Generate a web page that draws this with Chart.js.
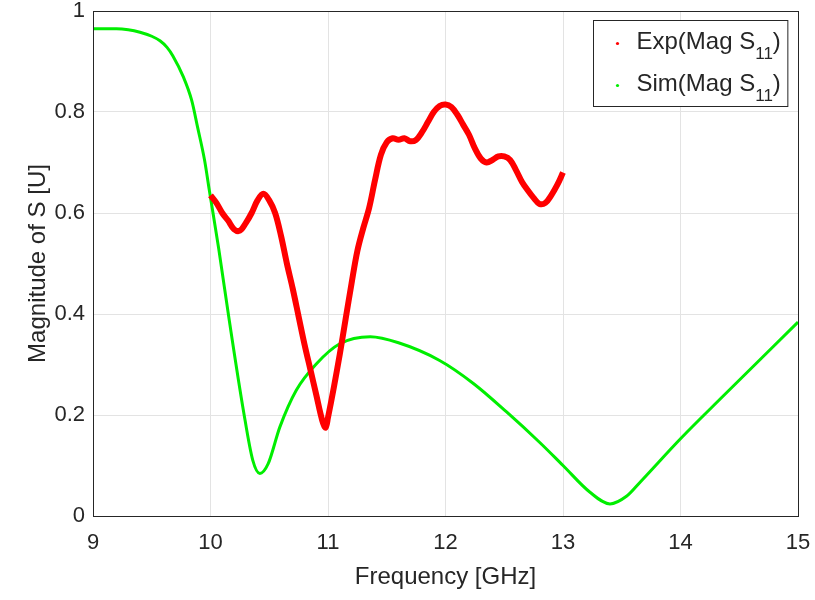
<!DOCTYPE html>
<html>
<head>
<meta charset="utf-8">
<script src="https://cdn.jsdelivr.net/npm/chart.js@4/dist/chart.umd.min.js"></script>
<style>
  html, body { margin: 0; padding: 0; background: #fff; }
  #wrap { width: 815px; height: 600px; }
</style>
</head>
<body>
<div id="wrap"><canvas id="myChart" width="815" height="600"></canvas></div>
<script>
var freqExp = [10.00, 10.05, 10.10, 10.15, 10.20, 10.25, 10.30, 10.35, 10.40, 10.45,
  10.50, 10.55, 10.60, 10.65, 10.70, 10.75, 10.80, 10.85, 10.90, 10.95, 10.98,
  11.00, 11.05, 11.10, 11.15, 11.20, 11.25, 11.30, 11.35, 11.40, 11.45,
  11.50, 11.55, 11.60, 11.65, 11.70, 11.75, 11.80, 11.85, 11.90, 11.95,
  12.00, 12.05, 12.10, 12.15, 12.20, 12.25, 12.30, 12.35, 12.40, 12.45,
  12.50, 12.55, 12.60, 12.65, 12.70, 12.75, 12.80, 12.85, 12.90, 12.95, 13.00];
var magExp = [0.635, 0.620, 0.600, 0.585, 0.568, 0.565, 0.580, 0.600, 0.625, 0.638,
  0.625, 0.600, 0.555, 0.500, 0.450, 0.395, 0.340, 0.290, 0.240, 0.190, 0.175,
  0.195, 0.255, 0.320, 0.390, 0.460, 0.525, 0.570, 0.610, 0.665, 0.715,
  0.740, 0.748, 0.745, 0.748, 0.742, 0.745, 0.760, 0.780, 0.800, 0.812,
  0.815, 0.810, 0.795, 0.775, 0.755, 0.728, 0.708, 0.700, 0.705, 0.712,
  0.712, 0.705, 0.685, 0.662, 0.645, 0.630, 0.618, 0.620, 0.635, 0.655, 0.680];

// simulation
var freqSim = [9.00, 9.20, 9.30, 9.40, 9.50, 9.57, 9.63, 9.68, 9.77, 9.84, 9.89, 9.95, 9.99, 10.07,
  10.16, 10.28, 10.36, 10.42, 10.49, 10.59, 10.73, 10.90, 11.10, 11.36,
  11.60, 11.95, 12.24, 12.52, 12.80, 13.00, 13.23, 13.40, 13.54, 13.66,
  14.00, 14.37, 15.00];
var magSim = [0.965, 0.965, 0.963, 0.958, 0.950, 0.941, 0.928, 0.911, 0.869, 0.823, 0.770, 0.704, 0.645, 0.529,
  0.387, 0.209, 0.110, 0.084, 0.103, 0.176, 0.249, 0.301, 0.341, 0.355,
  0.343, 0.308, 0.262, 0.206, 0.146, 0.100, 0.047, 0.024, 0.039, 0.068,
  0.153, 0.239, 0.384];

var xTicks = [9, 10, 11, 12, 13, 14, 15];
var yTicks = [0, 0.2, 0.4, 0.6, 0.8, 1];

var legendNames = ['Exp(Mag S', 'Sim(Mag S'];
var legendSub = '11';

var txtColor = '#262626';
var fontName = '"Liberation Sans", Arial, sans-serif';

function toPoints(xs, ys) {
  return xs.map(function (x, i) { return { x: x, y: ys[i] }; });
}

// box round the axes + legend inside the plot, matlab style
var frameAndLegend = {
  id: 'frameAndLegend',
  afterDraw: function (chart) {
    var ctx = chart.ctx, a = chart.chartArea;
    ctx.save();
    ctx.strokeStyle = txtColor;
    ctx.lineWidth = 1;
    ctx.strokeRect(Math.round(a.left) + 0.5, Math.round(a.top) + 0.5,
      Math.round(a.right - a.left), Math.round(a.bottom - a.top));

    var mainFont = '24px ' + fontName, subFont = '17px ' + fontName;
    var widths = legendNames.map(function (n) {
      ctx.font = mainFont;
      var w = ctx.measureText(n).width + ctx.measureText(')').width;
      ctx.font = subFont;
      return w + ctx.measureText(legendSub).width;
    });
    var bw = 43 + Math.max.apply(null, widths) + 7;
    var bh = 86;
    var bx = Math.round(a.right - 11 - bw) + 0.5, by = Math.round(a.top + 9) + 0.5;
    ctx.fillStyle = '#fff';
    ctx.fillRect(bx, by, bw, bh);
    ctx.strokeRect(bx, by, bw, bh);

    var colors = chart.data.datasets.map(function (d) { return d.borderColor; });
    legendNames.forEach(function (n, i) {
      var cy = by + 20 + i * 42;
      ctx.fillStyle = colors[i];
      ctx.beginPath();
      ctx.arc(bx + 24, cy + 3, 1.6, 0, Math.PI * 2);
      ctx.fill();
      ctx.fillStyle = txtColor;
      ctx.textBaseline = 'alphabetic';
      ctx.textAlign = 'left';
      var tx = bx + 43;
      ctx.font = mainFont;
      ctx.fillText(n, tx, cy + 8);
      tx += ctx.measureText(n).width;
      ctx.font = subFont;
      ctx.fillText(legendSub, tx, cy + 18);
      tx += ctx.measureText(legendSub).width;
      ctx.font = mainFont;
      ctx.fillText(')', tx, cy + 8);
    });
    ctx.restore();
  }
};

var ctx = document.getElementById('myChart');
var myChart = new Chart(ctx, {
  type: 'line',
  data: {
    datasets: [{
      label: 'Exp(Mag S11)',
      data: toPoints(freqExp, magExp),
      borderColor: '#ff0000',
      backgroundColor: '#ff0000',
      borderWidth: 6,
      pointRadius: 0,
      tension: 0.35
    }, {
      label: 'Sim(Mag S11)',
      data: toPoints(freqSim, magSim),
      borderColor: '#00ee00',
      backgroundColor: '#00ee00',
      borderWidth: 3,
      pointRadius: 0,
      cubicInterpolationMode: 'monotone'
    }]
  },
  options: {
    responsive: false,
    animation: false,
    layout: { padding: { top: 11, right: 17, left: 0, bottom: 0 } },
    plugins: {
      legend: { display: false },
      tooltip: { enabled: false }
    },
    scales: {
      x: {
        type: 'linear',
        min: 9, max: 15,
        afterBuildTicks: function (s) { s.ticks = xTicks.map(function (v) { return { value: v }; }); },
        afterFit: function (s) { s.height = 84; s.paddingLeft = 0; s.paddingRight = 0; },
        grid: { color: '#e3e3e3', drawTicks: false },
        border: { display: false },
        ticks: { color: txtColor, padding: 14, font: { family: fontName, size: 22 } },
        title: {
          display: true, text: 'Frequency [GHz]', color: txtColor,
          padding: { top: 0, bottom: 8 },
          font: { family: fontName, size: 24 }
        }
      },
      y: {
        min: 0, max: 1,
        afterBuildTicks: function (s) { s.ticks = yTicks.map(function (v) { return { value: v }; }); },
        afterFit: function (s) { s.width = 93; s.paddingTop = 0; s.paddingBottom = 0; },
        grid: { color: '#e3e3e3', drawTicks: false },
        border: { display: false },
        ticks: {
          color: txtColor, padding: 8, font: { family: fontName, size: 22 },
          callback: function (v) { return String(Math.round(v * 10) / 10); }
        },
        title: {
          display: true, text: 'Magnitude of S [U]', color: txtColor,
          padding: { top: 24, bottom: 0 },
          font: { family: fontName, size: 24 }
        }
      }
    }
  },
  plugins: [frameAndLegend]
});
</script>
</body>
</html>
